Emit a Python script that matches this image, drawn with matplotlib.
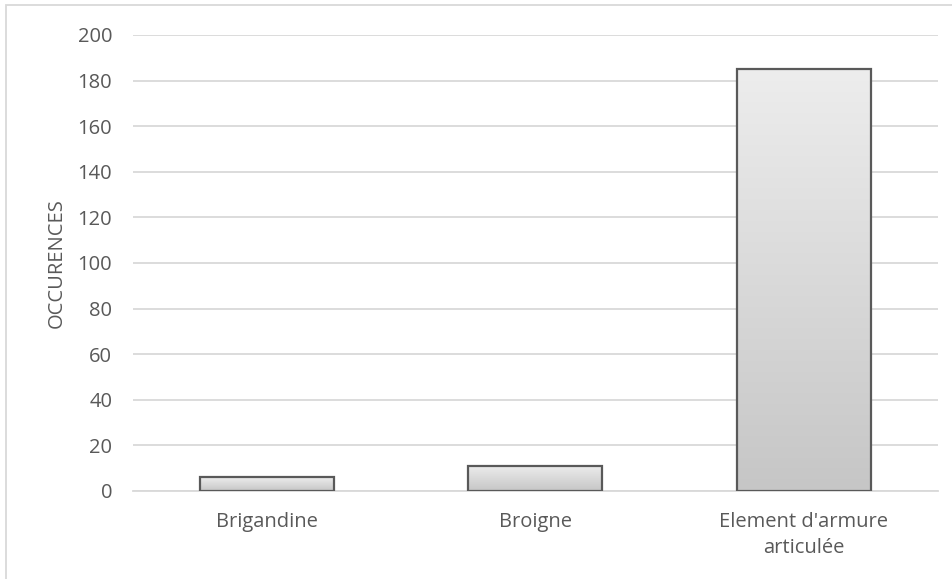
import matplotlib.pyplot as plt
import numpy as np
from matplotlib.colors import LinearSegmentedColormap
from matplotlib.patches import Rectangle

categories = ["Brigandine", "Broigne", "Element d'armure\narticulée"]
occurences = [6, 11, 185]
yticks = [0, 20, 40, 60, 80, 100, 120, 140, 160, 180, 200]

plt.rcParams['font.family'] = ['Open Sans', 'DejaVu Sans']
txt = '#595959'

fig = plt.figure(figsize=(9.53, 5.79), dpi=100)
ax = fig.add_axes([0.1396, 0.152, 0.8444, 0.7876])

x = np.arange(len(categories))
bars = ax.bar(x, occurences, width=0.5, color='none', edgecolor='#595959', linewidth=1.6, zorder=3)

# gradient fill, light at top, darker at bottom
cmap = LinearSegmentedColormap.from_list('g', ['#c6c6c6', '#ededed'])
grad = np.linspace(0, 1, 256).reshape(-1, 1)
for b in bars:
    x0, y0 = b.get_x(), b.get_y()
    w, h = b.get_width(), b.get_height()
    im = ax.imshow(grad, cmap=cmap, origin='lower', aspect='auto',
                   extent=[x0, x0 + w, y0, y0 + h], zorder=2)
    im.set_clip_path(b)

ax.set_xlim(-0.5, len(categories) - 0.5)
ax.set_ylim(0, 200)
ax.set_yticks(yticks)
ax.set_xticks(x)
ax.set_xticklabels(categories, linespacing=1.4)
ax.grid(axis='y', color='#d9d9d9', linewidth=1.3, zorder=0)
ax.set_axisbelow(True)
for s in ['top', 'right', 'left']:
    ax.spines[s].set_visible(False)
ax.spines['bottom'].set_color('#d9d9d9')
ax.spines['bottom'].set_linewidth(1.3)
ax.tick_params(axis='both', length=0, labelsize=14.5, colors=txt)
ax.tick_params(axis='y', pad=15)
ax.tick_params(axis='x', pad=15)
ax.set_ylabel('OCCURENCES', fontsize=14.5, color=txt, labelpad=8)

# outer frame of the chart area
fig.patches.append(Rectangle((6 / 953, -0.1), 1.2, 1 - 5 / 579 + 0.1,
                             transform=fig.transFigure, fill=False,
                             edgecolor='#d9d9d9', linewidth=1.3))

fig.savefig('out.png', dpi=100)
